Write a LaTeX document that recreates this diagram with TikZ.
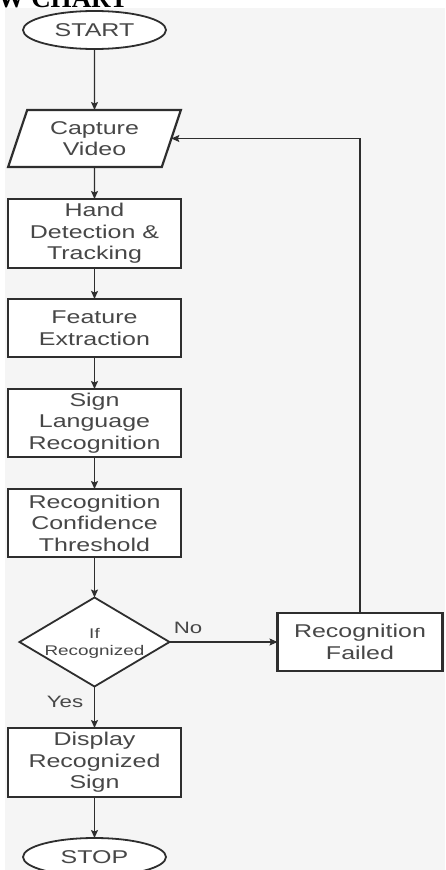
\documentclass[tikz,border=0pt]{standalone}
\usepackage{fontspec}
\usetikzlibrary{shapes.geometric,arrows.meta}
\newfontfamily\labfont[FakeStretch=1.35]{Liberation Sans}
\newfontfamily\titlefont{Liberation Serif}
\definecolor{bggray}{HTML}{F5F5F5}
\definecolor{linec}{HTML}{2E2E2E}
\definecolor{textc}{HTML}{474747}
\begin{document}
\begin{tikzpicture}[x=1pt,y=1pt,
  basefont/.style={text=textc, font=\labfont\fontsize{18.5}{21.5}\selectfont},
  box/.style={basefont, draw=linec, line width=2.2pt, fill=white, rectangle,
    minimum width=173pt, inner sep=0pt, outer sep=0pt, align=center},
  term/.style={basefont, draw=linec, line width=1.8pt, fill=white, ellipse,
    minimum width=143pt, minimum height=38pt, inner sep=0pt, outer sep=0pt},
  iobox/.style={basefont, draw=linec, line width=2.2pt, fill=white, trapezium,
    trapezium left angle=70, trapezium right angle=110, trapezium stretches=true,
    minimum width=173pt, minimum height=57pt, inner sep=0pt, outer sep=0pt, align=center},
  decbox/.style={draw=linec, line width=1.8pt, fill=white, diamond,
    minimum width=150pt, minimum height=89pt, inner sep=0pt, outer sep=0pt},
  dectxt/.style={text=textc, font=\labfont\fontsize{14}{17}\selectfont, align=center, inner sep=0pt},
  lbl/.style={text=textc, font=\labfont\fontsize{16.5}{18}\selectfont, inner sep=0pt},
  arr/.style={draw=linec, line width=1.2pt, -{Stealth[length=8pt,width=7pt,inset=1.5pt]}}
]
\useasboundingbox (0,0) rectangle (445,-870);
\clip (0,0) rectangle (445,-870);
\fill[white] (0,0) rectangle (445,-870);
\fill[bggray] (5,-8) rectangle (445,-870);
\node[anchor=base east, inner sep=0pt, font=\titlefont\bfseries\fontsize{27}{27}\selectfont] (title) at (128,-7.5) {FLOW CHART};

\node[term] (start) at (94.5,-30) {START};
\node[iobox] (cap) at (94.5,-138.5) {Capture\\Video};
\node[box, minimum height=69pt] (hand) at (94.5,-233.5) {Hand\\Detection \&\\Tracking};
\node[box, minimum height=58pt] (feat) at (94.5,-328) {Feature\\Extraction};
\node[box, minimum height=68pt] (sign) at (94.5,-423) {Sign\\Language\\Recognition};
\node[box, minimum height=68pt] (thr) at (94.5,-523) {Recognition\\Confidence\\Threshold};
\node[decbox] (dec) at (94.5,-642) {};
\node[dectxt] (dectext) at (94.5,-643) {If\\Recognized};
\node[box, minimum width=165pt, minimum height=58pt] (fail) at (360,-642) {Recognition\\Failed};
\node[box, minimum height=69pt] (disp) at (94.5,-762.5) {Display\\Recognized\\Sign};
\node[term] (stop) at (94.5,-857) {STOP};

\node[lbl] (no) at (188,-628) {No};
\node[lbl] (yes) at (65,-702) {Yes};

\draw[arr] (start) -- (cap);
\draw[arr] (cap) -- (hand);
\draw[arr] (hand) -- (feat);
\draw[arr] (feat) -- (sign);
\draw[arr] (sign) -- (thr);
\draw[arr] (thr) -- (dec);
\draw[arr] (dec) -- (fail);
\draw[arr] (dec) -- (disp);
\draw[arr] (fail.north) |- (cap);
\draw[arr] (disp) -- (stop);
\end{tikzpicture}
\end{document}
